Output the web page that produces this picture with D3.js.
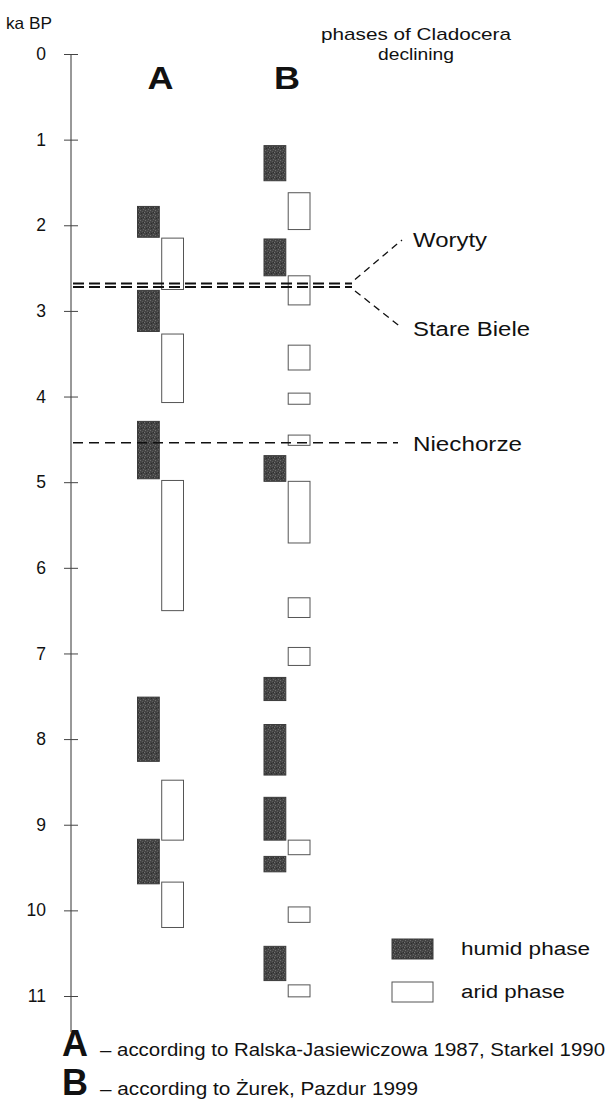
<!DOCTYPE html>
<html>
<head>
<meta charset="utf-8" />
<title>Phases of Cladocera declining</title>
<script src="https://d3js.org/d3.v7.min.js"></script>
<style>
  body { margin: 0; background: #fff; }
  text { font-family: "Liberation Sans", Arial, sans-serif; fill: #111; }
</style>
</head>
<body>
<svg width="614" height="1102"></svg>
<script>
// ---- data (ka BP) ----
const columns = ["A", "B"];
const phases = ["humid", "arid"];
const ticks = [0, 1, 2, 3, 4, 5, 6, 7, 8, 9, 10, 11];

const humidA = [[1.78, 2.14], [2.76, 3.24], [4.29, 4.96], [7.51, 8.26], [9.17, 9.69]];
const aridA = [[2.15, 2.75], [3.27, 4.07], [4.98, 6.50], [8.48, 9.18], [9.67, 10.20]];
const humidB = [[1.07, 1.48], [2.16, 2.59], [4.69, 4.99], [7.28, 7.55], [7.83, 8.42],
                [8.68, 9.18], [9.37, 9.55], [10.42, 10.82]];
const aridB = [[1.62, 2.05], [2.59, 2.93], [3.40, 3.69], [3.96, 4.09], [4.45, 4.57],
               [4.99, 5.71], [6.35, 6.58], [6.93, 7.14], [9.18, 9.35], [9.96, 10.14], [10.87, 11.01]];

const siteNames = ["Woryty", "Stare Biele", "Niechorze"];
const siteAges = [2.68, 2.72, 4.54];

const sources = [
  "\u2013 according to Ralska-Jasiewiczowa 1987, Starkel 1990",
  "\u2013 according to \u017burek, Pazdur 1999"
];

// ---- setup ----
const svg = d3.select("svg");
const axisX = 71;

const y = d3.scaleLinear().domain([0, 11]).range([54, 996]);
const colX = d3.scalePoint().domain(columns).range([160.5, 287]);
const phaseX = d3.scaleBand().domain(phases).range([-23, 23]).paddingInner(0.1);

// speckled fill for humid phases
const defs = svg.append("defs");
const pat = defs.append("pattern")
  .attr("id", "speckle")
  .attr("width", 5).attr("height", 5)
  .attr("patternUnits", "userSpaceOnUse");
pat.append("rect").attr("width", 5).attr("height", 5).attr("fill", "#444");
[[0, 0, "#6e6e6e"], [2, 1, "#5c5c5c"], [4, 2, "#707070"], [1, 3, "#2c2c2c"], [3, 4, "#656565"], [3, 2, "#2e2e2e"]]
  .forEach(([px, py, c]) => pat.append("rect").attr("x", px).attr("y", py)
    .attr("width", 1).attr("height", 1).attr("fill", c));

// helper for (horizontally stretched) text
function label(g, str, x, yy, size, len, opts = {}) {
  const t = g.append("text")
    .attr("x", x).attr("y", yy)
    .style("font-size", size + "px")
    .text(str);
  if (len) t.attr("textLength", len).attr("lengthAdjust", "spacingAndGlyphs");
  if (opts.bold) t.style("font-weight", "bold");
  if (opts.anchor) t.attr("text-anchor", opts.anchor);
  return t;
}

// ---- axis ----
svg.append("line")
  .attr("x1", axisX).attr("x2", axisX)
  .attr("y1", y(0)).attr("y2", 1032)
  .attr("stroke", "#333").attr("stroke-width", 1);

const ax = svg.append("g")
  .attr("transform", `translate(${axisX},0)`)
  .call(d3.axisLeft(y).tickValues(ticks).tickSize(7).tickPadding(18).tickFormat(d3.format("d")));
ax.select(".domain").remove();
ax.selectAll(".tick line").attr("x1", -7).attr("x2", 7).attr("stroke", "#444");
ax.selectAll(".tick text")
  .style("font-size", "17.5px")
  .style("font-family", "\"Liberation Sans\", Arial, sans-serif")
  .attr("fill", "#222");

label(svg, "ka BP", 6, 29, 16.5, 46);

// ---- column headers ----
columns.forEach(c => label(svg, c, colX(c), 89, 31, 26, { bold: true, anchor: "middle" }));
label(svg, "phases of Cladocera", 416, 40, 17, 190, { anchor: "middle" });
label(svg, "declining", 416, 60, 17, 76, { anchor: "middle" });

// ---- phase bars ----
const bars = [
  { col: "A", phase: "humid", data: humidA },
  { col: "A", phase: "arid", data: aridA },
  { col: "B", phase: "humid", data: humidB },
  { col: "B", phase: "arid", data: aridB }
];

bars.forEach(s => {
  svg.append("g").selectAll("rect")
    .data(s.data)
    .join("rect")
    .attr("x", colX(s.col) + phaseX(s.phase))
    .attr("width", phaseX.bandwidth())
    .attr("y", d => y(d[0]))
    .attr("height", d => y(d[1]) - y(d[0]))
    .attr("fill", s.phase === "humid" ? "url(#speckle)" : "#fff")
    .attr("stroke", s.phase === "humid" ? "#3a3a3a" : "#555")
    .attr("stroke-width", 1);
});

// ---- site lines ----
const lineEnd = 352;
const labelX = 413;
const sites = svg.append("g");

// double line (Woryty / Stare Biele)
[0, 1].forEach(i => {
  sites.append("line")
    .attr("x1", axisX + 2).attr("x2", lineEnd)
    .attr("y1", y(siteAges[i])).attr("y2", y(siteAges[i]))
    .attr("stroke", "#111").attr("stroke-width", 2)
    .attr("stroke-dasharray", "11,5");
});
// diagonal leaders to labels
const leaderY = [240, 328];
[0, 1].forEach(i => {
  sites.append("line")
    .attr("x1", lineEnd + 3).attr("y1", y(siteAges[i]) + (i === 0 ? -4 : 4))
    .attr("x2", 402).attr("y2", leaderY[i])
    .attr("stroke", "#111").attr("stroke-width", 1.3)
    .attr("stroke-dasharray", "7,5");
});
// Niechorze
sites.append("line")
  .attr("x1", axisX + 2).attr("x2", 398)
  .attr("y1", y(siteAges[2])).attr("y2", y(siteAges[2]))
  .attr("stroke", "#111").attr("stroke-width", 1.5)
  .attr("stroke-dasharray", "10,6");

const siteLabelY = [247, 336, 451];
const siteLabelW = [74, 117, 109];
siteNames.forEach((n, i) => label(sites, n, labelX, siteLabelY[i], 19.5, siteLabelW[i]));

// ---- legend ----
const legend = svg.append("g");
const legendItems = [
  { phase: "humid", text: "humid phase", y: 939, w: 129 },
  { phase: "arid", text: "arid phase", y: 982, w: 104 }
];
legendItems.forEach(d => {
  legend.append("rect")
    .attr("x", 392).attr("y", d.y)
    .attr("width", 41).attr("height", 20)
    .attr("fill", d.phase === "humid" ? "url(#speckle)" : "#fff")
    .attr("stroke", d.phase === "humid" ? "#3a3a3a" : "#555");
  label(legend, d.text, 461, d.y + 16, 18, d.w);
});

// ---- sources ----
const srcY = [1056, 1095];
const srcW = [505, 318];
columns.forEach((c, i) => {
  label(svg, c, 75, srcY[i], 37, 26, { bold: true, anchor: "middle" });
  label(svg, sources[i], 100, srcY[i], 17.5, srcW[i]);
});
</script>
</body>
</html>
